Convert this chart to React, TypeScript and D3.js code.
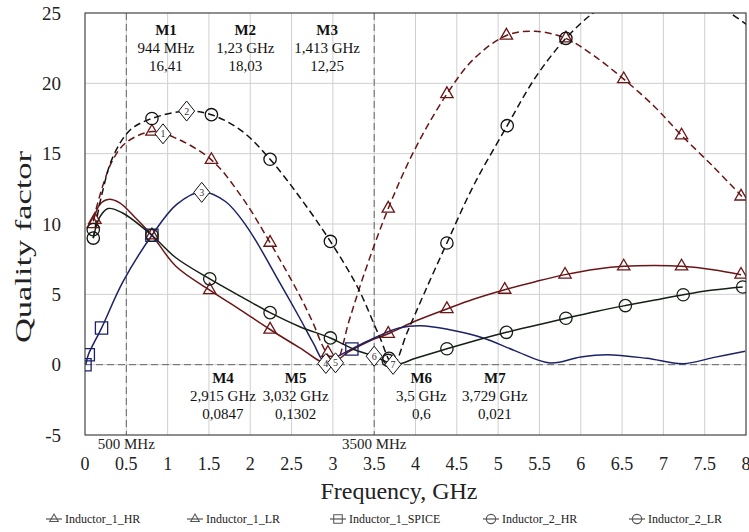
import React, { useEffect, useRef } from 'react';
import * as d3 from 'd3';

const WIDTH = 749;
const HEIGHT = 532;
const MARGIN = { top: 13, right: 3, bottom: 97, left: 85 };
const FONT = "'Liberation Serif', 'Times New Roman', 'DejaVu Serif', serif";

const X_TICKS = [0, 0.5, 1, 1.5, 2, 2.5, 3, 3.5, 4, 4.5, 5, 5.5, 6, 6.5, 7, 7.5, 8];
const Y_TICKS = [-5, 0, 5, 10, 15, 20, 25];
const REF_LINES = [{ f: 0.5, label: '500 MHz' }, { f: 3.5, label: '3500 MHz' }];

// curve samples, [GHz, Q]
const IND1_HR = [[0.1, 10.3], [0.22, 12.8], [0.34, 14.6], [0.5, 15.8], [0.81, 16.57], [1.1, 16.1], [1.53, 14.56], [1.9, 11.9], [2.24, 8.67], [2.6, 4.9], [2.76, 2.96], [2.9, 1.07], [3.03, 0.13], [3.2, 3.2], [3.37, 6.3], [3.67, 11.1], [4.0, 15.4], [4.38, 19.24], [4.7, 21.7], [5.1, 23.4], [5.45, 23.7], [5.82, 23.2], [6.15, 22.0], [6.52, 20.3], [6.9, 18.3], [7.22, 16.3], [7.6, 14.1], [7.95, 11.96]];
const IND1_LR = [[0.1, 10.2], [0.18, 11.4], [0.28, 11.75], [0.42, 11.5], [0.6, 10.5], [0.81, 9.2], [1.1, 7.0], [1.51, 5.3], [1.88, 3.9], [2.24, 2.5], [2.6, 1.2], [2.95, 0.05], [3.2, 0.95], [3.45, 1.7], [3.67, 2.2], [4.0, 3.1], [4.38, 3.96], [4.7, 4.65], [5.08, 5.33], [5.45, 5.9], [5.81, 6.4], [6.2, 6.8], [6.52, 6.99], [6.9, 7.05], [7.22, 6.99], [7.6, 6.75], [7.94, 6.4]];
const IND1_SPICE = [[0.01, 0], [0.04, 0.7], [0.2, 2.6], [0.46, 5.9], [0.81, 9.2], [1.11, 11.4], [1.41, 12.3], [1.7, 11.6], [1.96, 9.8], [2.36, 5.8], [2.6, 3.3], [2.76, 1.56], [2.915, 0.08], [3.05, 0.55], [3.23, 1.12], [3.5, 1.9], [3.8, 2.6], [4.06, 2.77], [4.4, 2.5], [4.82, 1.9], [5.2, 1.0], [5.63, 0.12], [6.0, 0.55], [6.32, 0.71], [6.8, 0.45], [7.24, 0.07], [7.6, 0.5], [7.99, 0.95]];
const IND2_HR = [[0.1, 9.0], [0.2, 12.0], [0.34, 14.8], [0.55, 16.7], [0.81, 17.5], [1.23, 18.03], [1.53, 17.77], [1.9, 16.6], [2.24, 14.6], [2.6, 11.9], [2.97, 8.76], [3.3, 5.5], [3.55, 2.2], [3.73, 0.02], [3.9, 2.3], [4.1, 5.0], [4.38, 8.65], [4.7, 12.7], [5.11, 16.99], [5.45, 20.4], [5.82, 23.2], [6.15, 25.0], [6.5, 26.3], [7.0, 26.9], [7.5, 26.1], [7.81, 25.0], [8.0, 24.2]];
const IND2_LR = [[0.1, 9.0], [0.18, 10.5], [0.28, 11.1], [0.45, 10.8], [0.81, 9.2], [1.1, 7.6], [1.51, 6.1], [1.9, 4.8], [2.24, 3.7], [2.6, 2.7], [2.97, 1.9], [3.25, 1.1], [3.5, 0.6], [3.76, 0.02], [4.0, 0.45], [4.38, 1.13], [4.75, 1.75], [5.1, 2.3], [5.46, 2.8], [5.82, 3.3], [6.2, 3.8], [6.54, 4.2], [6.9, 4.6], [7.24, 4.97], [7.6, 5.3], [7.96, 5.52]];

// marker positions on each curve
const IND1_HR_MARKS = [[0.12, 10.3], [0.81, 16.57], [1.53, 14.56], [2.24, 8.67], [2.94, 0.85], [3.67, 11.1], [4.38, 19.24], [5.1, 23.4], [5.82, 23.2], [6.52, 20.3], [7.22, 16.3], [7.94, 11.96]];
const IND1_LR_MARKS = [[0.1, 10.0], [0.81, 9.2], [1.51, 5.3], [2.24, 2.5], [2.94, 0.1], [3.67, 2.2], [4.38, 3.96], [5.08, 5.33], [5.81, 6.4], [6.52, 6.99], [7.22, 6.99], [7.94, 6.4]];
const IND1_SPICE_MARKS = [[0.0, 0.0], [0.04, 0.7], [0.2, 2.6], [0.81, 9.2], [3.23, 1.12]];
const IND2_HR_MARKS = [[0.1, 9.0], [0.81, 17.5], [1.53, 17.77], [2.24, 14.6], [2.97, 8.76], [3.68, 0.45], [4.38, 8.65], [5.11, 16.99], [5.82, 23.2]];
const IND2_LR_MARKS = [[0.1, 9.6], [0.81, 9.2], [1.51, 6.1], [2.24, 3.7], [2.97, 1.9], [3.67, 0.3], [4.38, 1.13], [5.1, 2.3], [5.82, 3.3], [6.54, 4.2], [7.24, 4.97], [7.96, 5.52]];

// M1..M7 markers: [GHz, Q]
const MARKER_IDS = ['1', '2', '3', '4', '5', '6', '7'];
const MARKER_F = [0.944, 1.23, 1.413, 2.915, 3.032, 3.5, 3.729];
const MARKER_Q = [16.41, 18.03, 12.25, 0.0847, 0.1302, 0.6, 0.021];
const MARKER_F_TEXT = ['944 MHz', '1,23 GHz', '1,413 GHz', '2,915 GHz', '3,032 GHz', '3,5 GHz', '3,729 GHz'];
const MARKER_Q_TEXT = ['16,41', '18,03', '12,25', '0,0847', '0,1302', '0,6', '0,021'];
// where each text block sits along the frequency axis
const MARKER_TEXT_AT = [0.98, 1.94, 2.93, 1.67, 2.55, 4.07, 4.96];

const SERIES = [
  { name: 'Inductor_1_HR', data: IND1_HR, marks: IND1_HR_MARKS, color: '#6b1616', dash: '7,4', symbol: 'triangle' },
  { name: 'Inductor_1_LR', data: IND1_LR, marks: IND1_LR_MARKS, color: '#6b1616', dash: null, symbol: 'triangle' },
  { name: 'Inductor_1_SPICE', data: IND1_SPICE, marks: IND1_SPICE_MARKS, color: '#1d2168', dash: null, symbol: 'square' },
  { name: 'Inductor_2_HR', data: IND2_HR, marks: IND2_HR_MARKS, color: '#111111', dash: '7,4', symbol: 'circle' },
  { name: 'Inductor_2_LR', data: IND2_LR, marks: IND2_LR_MARKS, color: '#152015', dash: null, symbol: 'circle' },
];
const LEGEND_X = [46, 187, 330, 483, 629];

const symbolPath = (kind: string) => {
  if (kind === 'triangle') return d3.symbol(d3.symbolTriangle, 66)();
  if (kind === 'square') return d3.symbol(d3.symbolSquare, 150)();
  return d3.symbol(d3.symbolCircle, 120)();
};

export default function App() {
  const ref = useRef<SVGSVGElement>(null);

  useEffect(() => {
    const svg = d3.select(ref.current);
    svg.selectAll('*').remove();

    const x = d3.scaleLinear().domain([0, 8]).range([MARGIN.left, WIDTH - MARGIN.right]);
    const y = d3.scaleLinear().domain([-5, 25]).range([HEIGHT - MARGIN.bottom, MARGIN.top]);
    const [x0, x1] = x.range();
    const [y0, y1] = y.range();

    svg.append('rect').attr('width', WIDTH).attr('height', HEIGHT).attr('fill', '#fff');

    svg.append('defs').append('clipPath').attr('id', 'plot')
      .append('rect').attr('x', x0).attr('y', y1).attr('width', x1 - x0).attr('height', y0 - y1);

    // grid
    svg.append('g').selectAll('line').data(X_TICKS.slice(1, -1)).join('line')
      .attr('x1', d => x(d)).attr('x2', d => x(d)).attr('y1', y1).attr('y2', y0)
      .attr('stroke', '#cfcfcf').attr('stroke-width', 1);
    svg.append('g').selectAll('line').data(Y_TICKS.slice(1, -1)).join('line')
      .attr('x1', x0).attr('x2', x1).attr('y1', d => y(d)).attr('y2', d => y(d))
      .attr('stroke', '#cfcfcf').attr('stroke-width', 1);

    // dashed reference lines
    svg.append('g').selectAll('line').data(REF_LINES).join('line')
      .attr('x1', d => x(d.f)).attr('x2', d => x(d.f)).attr('y1', y1).attr('y2', y0)
      .attr('stroke', '#666').attr('stroke-dasharray', '7,4');
    svg.append('line')
      .attr('x1', x0).attr('x2', x1).attr('y1', y(0)).attr('y2', y(0))
      .attr('stroke', '#666').attr('stroke-dasharray', '7,4');

    // frame
    svg.append('rect').attr('x', x0).attr('y', y1).attr('width', x1 - x0).attr('height', y0 - y1)
      .attr('fill', 'none').attr('stroke', '#444').attr('stroke-width', 1.2);

    const line = d3.line<number[]>().x(d => x(d[0])).y(d => y(d[1])).curve(d3.curveCatmullRom.alpha(0.5));
    const plot = svg.append('g').attr('clip-path', 'url(#plot)');

    SERIES.forEach(s => {
      plot.append('path').datum(s.data)
        .attr('d', line)
        .attr('fill', 'none')
        .attr('stroke', s.color)
        .attr('stroke-width', 1.5)
        .attr('stroke-dasharray', s.dash);
    });
    SERIES.forEach(s => {
      plot.append('g').selectAll('path').data(s.marks).join('path')
        .attr('d', symbolPath(s.symbol))
        .attr('transform', d => `translate(${x(d[0])},${y(d[1])})`)
        .attr('fill', 'none')
        .attr('stroke', s.color)
        .attr('stroke-width', 1.3);
    });

    // diamond markers 1..7
    const dm = svg.append('g').selectAll('g').data(MARKER_IDS).join('g')
      .attr('transform', (d, i) => `translate(${x(MARKER_F[i])},${y(MARKER_Q[i])})`);
    dm.append('path').attr('d', 'M0,-10L8,0L0,10L-8,0Z')
      .attr('fill', '#fff').attr('stroke', '#111').attr('stroke-width', 1);
    dm.append('text').text(d => d)
      .attr('text-anchor', 'middle').attr('dy', '0.35em')
      .style('font-family', FONT).attr('font-size', 10).attr('fill', '#333');

    // marker readouts
    const readout = svg.append('g').selectAll('g').data(MARKER_IDS).join('g')
      .attr('transform', (d, i) => `translate(${x(MARKER_TEXT_AT[i])},${i < 3 ? 35 : 383})`)
      .style('font-family', FONT).attr('font-size', 15).attr('text-anchor', 'middle').attr('fill', '#111');
    readout.append('text').text(d => `M${d}`).attr('font-weight', 'bold');
    readout.append('text').text((d, i) => MARKER_F_TEXT[i]).attr('y', 18);
    readout.append('text').text((d, i) => MARKER_Q_TEXT[i]).attr('y', 36);

    // axis labels
    svg.append('g').selectAll('text').data(Y_TICKS).join('text')
      .attr('x', 61).attr('y', d => y(d)).attr('dy', '0.35em')
      .attr('text-anchor', 'end').style('font-family', FONT).attr('font-size', 19).attr('fill', '#222')
      .text(d => d);
    svg.append('g').selectAll('text').data(X_TICKS).join('text')
      .attr('x', d => x(d)).attr('y', 470)
      .attr('text-anchor', 'middle').style('font-family', FONT).attr('font-size', 18).attr('fill', '#222')
      .text(d => d);
    svg.append('g').selectAll('text').data(REF_LINES).join('text')
      .attr('x', d => x(d.f)).attr('y', 449)
      .attr('text-anchor', 'middle').style('font-family', FONT).attr('font-size', 15).attr('fill', '#222')
      .text(d => d.label);

    svg.append('text').text('Frequency, GHz')
      .attr('x', 399).attr('y', 499).attr('text-anchor', 'middle')
      .style('font-family', FONT).attr('font-size', 24).attr('fill', '#222');
    svg.append('text').text('Quality factor')
      .attr('transform', `translate(31,${(y0 + y1) / 2 + 23}) rotate(-90)`)
      .attr('text-anchor', 'middle')
      .attr('textLength', 192).attr('lengthAdjust', 'spacingAndGlyphs')
      .style('font-family', FONT).attr('font-size', 24).attr('fill', '#222');

    // legend
    const lg = svg.append('g').selectAll('g').data(SERIES).join('g')
      .attr('transform', (d, i) => `translate(${LEGEND_X[i]},519)`);
    lg.append('line').attr('x1', 0).attr('x2', 16)
      .attr('stroke', '#555').attr('stroke-width', 1.2);
    lg.append('path').attr('d', d => symbolPath(d.symbol))
      .attr('transform', d => `translate(8,0) scale(${d.symbol === 'circle' ? 0.75 : 0.7})`)
      .attr('fill', 'none').attr('stroke', '#555').attr('stroke-width', 1.5);
    lg.append('text').text(d => d.name)
      .attr('x', 19).attr('dy', '0.35em')
      .style('font-family', FONT).attr('font-size', 12).attr('fill', '#222');
  }, []);

  return (
    <svg ref={ref} width={WIDTH} height={HEIGHT} viewBox={`0 0 ${WIDTH} ${HEIGHT}`}
      style={{ position: 'absolute', left: 0, top: 0 }} />
  );
}
